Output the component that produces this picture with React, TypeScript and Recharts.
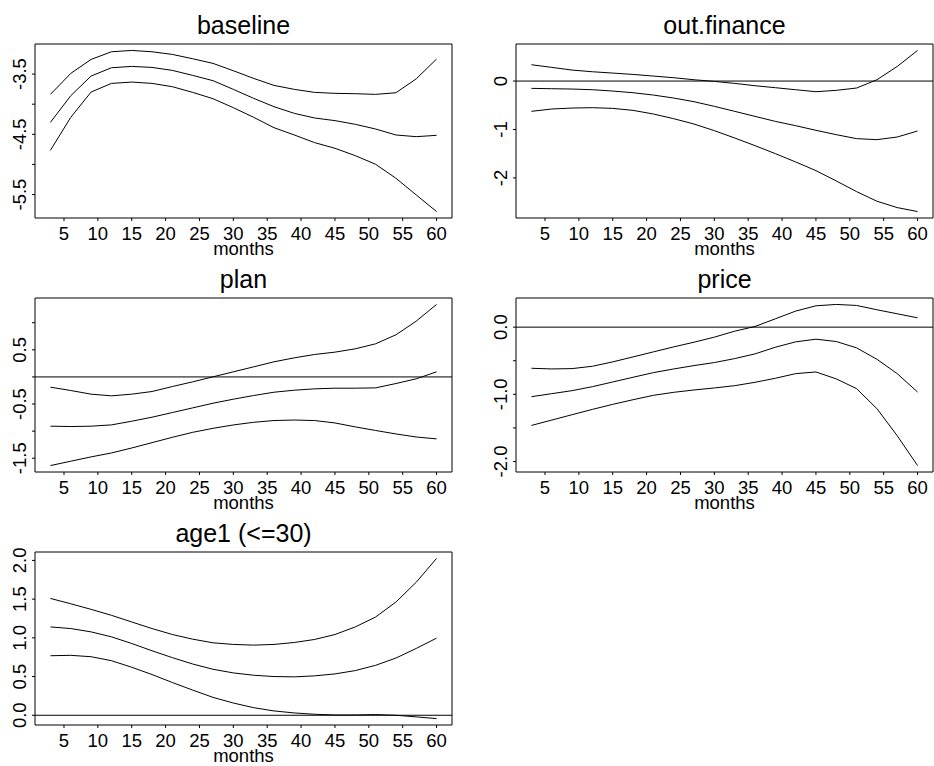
import React from 'react';
import { LineChart, Line, XAxis, YAxis, ReferenceLine, ReferenceArea } from 'recharts';

const months = [3, 6, 9, 12, 15, 18, 21, 24, 27, 30, 33, 36, 39, 42, 45, 48, 51, 54, 57, 60];
const xTicks = [5, 10, 15, 20, 25, 30, 35, 40, 45, 50, 55, 60];

const baselineUpper = [-3.837, -3.489, -3.257, -3.130, -3.108, -3.130, -3.174, -3.246, -3.323, -3.445, -3.572, -3.688, -3.754, -3.804, -3.820, -3.826, -3.837, -3.810, -3.580, -3.251];
const baselineMid = [-4.301, -3.859, -3.533, -3.395, -3.373, -3.390, -3.439, -3.522, -3.610, -3.754, -3.903, -4.041, -4.152, -4.229, -4.273, -4.334, -4.412, -4.511, -4.539, -4.517];
const baselineLower = [-4.765, -4.218, -3.798, -3.655, -3.633, -3.655, -3.710, -3.804, -3.909, -4.058, -4.218, -4.390, -4.511, -4.638, -4.732, -4.854, -4.997, -5.229, -5.506, -5.782];

const financeUpper = [0.337, 0.282, 0.227, 0.192, 0.165, 0.137, 0.103, 0.069, 0.027, -0.007, -0.048, -0.096, -0.137, -0.179, -0.220, -0.192, -0.144, 0.027, 0.302, 0.632];
const financeMid = [-0.151, -0.158, -0.165, -0.179, -0.206, -0.241, -0.289, -0.351, -0.426, -0.522, -0.625, -0.729, -0.832, -0.921, -1.017, -1.107, -1.189, -1.210, -1.155, -1.031];
const financeLower = [-0.625, -0.577, -0.557, -0.550, -0.564, -0.605, -0.680, -0.777, -0.887, -1.024, -1.175, -1.333, -1.498, -1.670, -1.849, -2.062, -2.282, -2.481, -2.612, -2.694];

const planUpper = [-0.189, -0.251, -0.318, -0.349, -0.318, -0.269, -0.177, -0.091, 0.002, 0.094, 0.186, 0.279, 0.352, 0.414, 0.457, 0.518, 0.611, 0.777, 1.029, 1.337];
const planMid = [-0.909, -0.915, -0.909, -0.885, -0.817, -0.743, -0.657, -0.571, -0.485, -0.411, -0.343, -0.282, -0.245, -0.220, -0.208, -0.208, -0.202, -0.122, -0.035, 0.094];
const planLower = [-1.635, -1.555, -1.475, -1.403, -1.311, -1.212, -1.114, -1.022, -0.948, -0.886, -0.837, -0.805, -0.795, -0.805, -0.849, -0.922, -0.988, -1.052, -1.108, -1.143];

const priceUpper = [-0.612, -0.622, -0.617, -0.582, -0.517, -0.443, -0.368, -0.294, -0.224, -0.149, -0.060, 0.010, 0.124, 0.239, 0.318, 0.338, 0.323, 0.259, 0.199, 0.139];
const priceMid = [-1.035, -0.990, -0.945, -0.886, -0.816, -0.746, -0.677, -0.622, -0.572, -0.527, -0.468, -0.398, -0.299, -0.219, -0.179, -0.214, -0.308, -0.478, -0.692, -0.965];
const priceLower = [-1.463, -1.383, -1.303, -1.224, -1.149, -1.080, -1.015, -0.970, -0.935, -0.905, -0.871, -0.821, -0.761, -0.692, -0.667, -0.770, -0.915, -1.213, -1.616, -2.060];

const ageUpper = [1.509, 1.440, 1.368, 1.291, 1.205, 1.120, 1.043, 0.983, 0.936, 0.915, 0.906, 0.915, 0.940, 0.979, 1.043, 1.141, 1.269, 1.462, 1.718, 2.026];
const ageMid = [1.141, 1.120, 1.077, 1.013, 0.927, 0.833, 0.744, 0.662, 0.594, 0.547, 0.517, 0.500, 0.496, 0.509, 0.534, 0.577, 0.645, 0.739, 0.863, 0.996];
const ageLower = [0.769, 0.774, 0.756, 0.705, 0.620, 0.526, 0.423, 0.325, 0.231, 0.158, 0.098, 0.056, 0.030, 0.013, 0.004, 0.004, 0.009, 0.000, -0.021, -0.043];

const titles = ['baseline', 'out.finance', 'plan', 'price', 'age1 (<=30)'];
const xLabel = 'months';

const baselineTicks = [-5.5, -5.0, -4.5, -4.0, -3.5];
const baselineLabels = [-5.5, -4.5, -3.5];
const financeTicks = [-2, -1, 0];
const financeLabels = [-2, -1, 0];
const planTicks = [-1.5, -1.0, -0.5, 0.0, 0.5, 1.0];
const planLabels = [-1.5, -0.5, 0.5];
const priceTicks = [-2.0, -1.5, -1.0, -0.5, 0.0];
const priceLabels = [-2.0, -1.0, 0.0];
const ageTicks = [0.0, 0.5, 1.0, 1.5, 2.0];
const ageLabels = [0.0, 0.5, 1.0, 1.5, 2.0];

const FONT = '"Liberation Sans", Arial, Helvetica, sans-serif';
const TICK_FS = 18.5;
const CHART_H = 262;

function rDomain(vals: number[]): [number, number] {
  const lo = Math.min(...vals);
  const hi = Math.max(...vals);
  const d = (hi - lo) * 0.04;
  return [lo - d, hi + d];
}

type PanelSpec = {
  title: string;
  upper: number[];
  mid: number[];
  lower: number[];
  ticks: number[];
  labels: number[];
  digits: number;
  hline: boolean;
  left: number;
  top: number;
  mt: number;
  yw: number;
  mr: number;
  plotH: number;
};

const XTick = (props: any) => {
  const { x, y, payload } = props;
  return (
    <text x={x} y={y + 19} textAnchor="middle" fontSize={TICK_FS} fontFamily={FONT} fill="#000">
      {payload.value}
    </text>
  );
};

const makeYTick = (labels: number[], digits: number) => (props: any) => {
  const { x, y, payload } = props;
  const v = payload.value as number;
  if (!labels.some((l) => Math.abs(l - v) < 1e-9)) return <g />;
  return (
    <text
      x={0}
      y={0}
      transform={`translate(${x - 6}, ${y}) rotate(-90)`}
      textAnchor="middle"
      fontSize={TICK_FS}
      fontFamily={FONT}
      fill="#000"
    >
      {v.toFixed(digits)}
    </text>
  );
};

const MonthsLabel = (props: any) => {
  const vb = props.viewBox || {};
  return (
    <text
      x={vb.x + vb.width / 2}
      y={vb.y + 37}
      textAnchor="middle"
      fontSize={TICK_FS}
      fontFamily={FONT}
      fill="#000"
    >
      {xLabel}
    </text>
  );
};

function Panel({ p }: { p: PanelSpec }) {
  const data = months.map((m, i) => ({ m, u: p.upper[i], c: p.mid[i], l: p.lower[i] }));
  const xDom = rDomain(months);
  const yDom = rDomain([...p.upper, ...p.mid, ...p.lower]);
  const xh = CHART_H - p.mt - p.plotH;
  return (
    <div style={{ position: 'absolute', left: p.left, top: p.top }}>
      <LineChart
        width={467}
        height={CHART_H}
        data={data}
        margin={{ top: p.mt, right: p.mr, bottom: 0, left: 0 }}
      >
        <XAxis
          dataKey="m"
          type="number"
          domain={xDom}
          ticks={xTicks}
          interval={0}
          allowDataOverflow
          height={xh}
          axisLine={false}
          tickSize={3}
          tickMargin={0}
          stroke="#000"
          tickLine={{ stroke: '#000' }}
          tick={<XTick />}
          label={<MonthsLabel />}
        />
        <YAxis
          type="number"
          domain={yDom}
          ticks={p.ticks}
          interval={0}
          allowDataOverflow
          width={p.yw}
          axisLine={false}
          tickSize={3}
          tickMargin={0}
          stroke="#000"
          tickLine={{ stroke: '#000' }}
          tick={makeYTick(p.labels, p.digits)}
        />
        <ReferenceArea
          x1={xDom[0]}
          x2={xDom[1]}
          y1={yDom[0]}
          y2={yDom[1]}
          ifOverflow="visible"
          fill="none"
          fillOpacity={0}
          stroke="#000"
          strokeWidth={1}
          label={{ value: p.title, position: 'top', offset: 10, fontSize: 25, fill: '#000', fontFamily: FONT }}
        />
        {p.hline && <ReferenceLine y={0} stroke="#000" strokeWidth={1} ifOverflow="visible" />}
        <Line dataKey="u" type="linear" stroke="#000" strokeWidth={1} dot={false} isAnimationActive={false} />
        <Line dataKey="c" type="linear" stroke="#000" strokeWidth={1} dot={false} isAnimationActive={false} />
        <Line dataKey="l" type="linear" stroke="#000" strokeWidth={1} dot={false} isAnimationActive={false} />
      </LineChart>
    </div>
  );
}

const panels: PanelSpec[] = [
  { title: titles[0], upper: baselineUpper, mid: baselineMid, lower: baselineLower, ticks: baselineTicks, labels: baselineLabels, digits: 1, hline: false, left: 0, top: 0, mt: 44, yw: 35, mr: 15, plotH: 174 },
  { title: titles[1], upper: financeUpper, mid: financeMid, lower: financeLower, ticks: financeTicks, labels: financeLabels, digits: 0, hline: true, left: 467, top: 0, mt: 44, yw: 49, mr: 1, plotH: 174 },
  { title: titles[2], upper: planUpper, mid: planMid, lower: planLower, ticks: planTicks, labels: planLabels, digits: 1, hline: true, left: 0, top: 255, mt: 43, yw: 35, mr: 15, plotH: 174 },
  { title: titles[3], upper: priceUpper, mid: priceMid, lower: priceLower, ticks: priceTicks, labels: priceLabels, digits: 1, hline: true, left: 467, top: 255, mt: 43, yw: 49, mr: 1, plotH: 174 },
  { title: titles[4], upper: ageUpper, mid: ageMid, lower: ageLower, ticks: ageTicks, labels: ageLabels, digits: 1, hline: true, left: 0, top: 510, mt: 42, yw: 35, mr: 15, plotH: 173 },
];

export default function App() {
  return (
    <div
      style={{
        position: 'absolute',
        left: 0,
        top: 0,
        width: 934,
        height: 766,
        background: '#fff',
        fontFamily: FONT,
        overflow: 'hidden',
      }}
    >
      {panels.map((p, i) => (
        <Panel key={i} p={p} />
      ))}
    </div>
  );
}
